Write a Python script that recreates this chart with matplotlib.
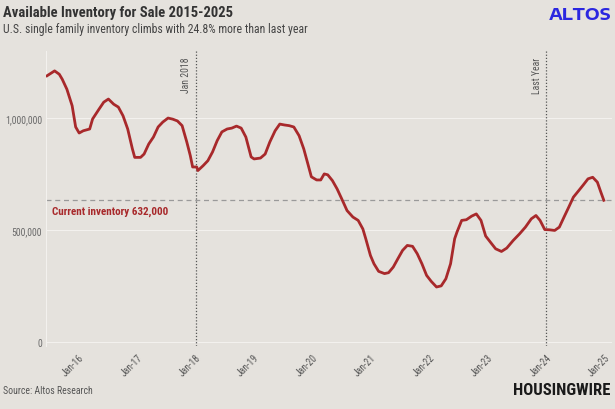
import matplotlib
matplotlib.use("Agg")
import matplotlib.pyplot as plt

# inventory (decimal year, single family homes)
years = [2015.46, 2015.59, 2015.67, 2015.72, 2015.80, 2015.89, 2015.95, 2016.01, 2016.08,
         2016.19, 2016.24, 2016.35, 2016.43, 2016.51, 2016.60, 2016.68, 2016.76, 2016.84,
         2016.92, 2016.96, 2017.06, 2017.12, 2017.20, 2017.28, 2017.36, 2017.44, 2017.53,
         2017.61, 2017.69, 2017.77, 2017.85, 2017.91, 2017.95, 2018.02, 2018.04, 2018.13,
         2018.21, 2018.29, 2018.37, 2018.45, 2018.54, 2018.62, 2018.70, 2018.78, 2018.86,
         2018.95, 2019.00, 2019.11, 2019.19, 2019.27, 2019.36, 2019.44, 2019.52, 2019.60,
         2019.68, 2019.77, 2019.85, 2019.92, 2019.98, 2020.07, 2020.14, 2020.20, 2020.26,
         2020.34, 2020.42, 2020.50, 2020.59, 2020.69, 2020.78, 2020.86, 2020.91, 2020.99,
         2021.05, 2021.13, 2021.23, 2021.30, 2021.38, 2021.46, 2021.54, 2021.62, 2021.71,
         2021.79, 2021.87, 2021.95, 2022.03, 2022.12, 2022.20, 2022.28, 2022.36, 2022.43,
         2022.47, 2022.55, 2022.63, 2022.72, 2022.80, 2022.88, 2022.96, 2023.04, 2023.13,
         2023.23, 2023.32, 2023.43, 2023.54, 2023.64, 2023.74, 2023.82, 2023.89, 2023.97,
         2024.05, 2024.14, 2024.22, 2024.30, 2024.38, 2024.46, 2024.55, 2024.63, 2024.71,
         2024.79, 2024.87, 2024.93, 2024.98]
inventory = [1189, 1211, 1196, 1174, 1129, 1055, 960, 933, 943,
             951, 996, 1040, 1071, 1085, 1062, 1049, 1010, 951,
             862, 824, 824, 839, 884, 915, 960, 982, 1000,
             995, 987, 966, 893, 832, 781, 781, 765, 787,
             809, 848, 899, 938, 951, 955, 964, 955, 915,
             826, 817, 821, 839, 893, 943, 973, 969, 966,
             960, 921, 862, 795, 737, 723, 723, 750, 746,
             720, 683, 638, 586, 557, 542, 504, 460, 385,
             348, 314, 304, 308, 333, 371, 408, 430, 426,
             393, 348, 296, 269, 244, 249, 281, 348, 460,
             490, 542, 545, 561, 571, 542, 472, 445, 415,
             403, 418, 452, 482, 512, 549, 564, 542, 501,
             500, 497, 512, 557, 601, 646, 675, 701, 728,
             735, 713, 668, 632]
inventory = [v * 1000 for v in inventory]

tick_years = list(range(2016, 2026))
tick_labels = ['Jan-16', 'Jan-17', 'Jan-18', 'Jan-19', 'Jan-20',
               'Jan-21', 'Jan-22', 'Jan-23', 'Jan-24', 'Jan-25']
y_ticks = [0, 500000, 1000000]
y_labels = ['0', '500,000', '1,000,000']
current = 632000
markers = [(2018.0, 'Jan 2018'), (2024.0, 'Last Year')]

bg = '#e5e2dd'
red = '#a8292b'
cond = ['Roboto Condensed', 'DejaVu Sans']

W, H = 615, 410
fig = plt.figure(figsize=(W / 100, H / 100), dpi=100, facecolor=bg)
ax = fig.add_axes([46 / W, 1 - 347 / H, (612 - 46) / W, (347 - 52) / H], facecolor=bg)

ax.plot(years, inventory, color=red, lw=2, solid_joinstyle='round', zorder=3)

ax.set_xlim(2015.443, 2025.12)
ax.set_ylim(-20000, 1300000)

ax.set_yticks(y_ticks)
ax.set_yticklabels(y_labels, family=cond, fontsize=7, color='#6a6a6a')
ax.set_xticks(tick_years)
ax.set_xticklabels(tick_labels, family=cond, fontsize=7, color='#555555',
                   rotation=45, ha='right', rotation_mode='anchor')
ax.tick_params(axis='y', length=0, pad=3)
ax.tick_params(axis='x', length=0, pad=4)

ax.grid(axis='y', color='#f3f1ee', lw=0.8)
for s in ['top', 'right', 'bottom']:
    ax.spines[s].set_visible(False)
ax.spines['left'].set_color('#f3f1ee')
ax.spines['left'].set_linewidth(0.8)

# current inventory reference
ax.axhline(current, color='#9a9a9a', lw=0.9, dashes=(4, 3), zorder=2)
ax.text(2015.54, current - 45000, f'Current inventory {current:,}', family=cond,
        fontsize=8, fontweight='bold', color=red, va='center', ha='left')

for x, lab in markers:
    ax.axvline(x, color='#555555', lw=0.9, ls=(0, (1, 1.5)), zorder=2)
    ax.text(x - 0.07, 1275000, lab, rotation=90, ha='right', va='top',
            family=cond, fontsize=7, color='#555555')

fig.text(3 / W, 1 - 13 / H, 'Available Inventory for Sale 2015-2025', family=cond,
         fontsize=10.5, fontweight='bold', color='#333333', va='center', ha='left')
fig.text(3 / W, 1 - 30 / H, 'U.S. single family inventory climbs with 24.8% more than last year',
         family=cond, fontsize=8.5, color='#444444', va='center', ha='left')
fig.text(611 / W, 1 - 15 / H, 'ALTOS', family=['Encode Sans Expanded', 'DejaVu Sans'],
         fontsize=12, fontweight='bold', color='#2b27e0', va='center', ha='right')
fig.text(3 / W, 1 - 391 / H, 'Source: Altos Research', family=cond,
         fontsize=7, color='#555555', va='center', ha='left')
fig.text(611 / W, 1 - 391 / H, 'HOUSINGWIRE', family=cond, fontsize=12,
         fontweight='black', color='#1a1a1a', va='center', ha='right')

fig.savefig('out.png', dpi=100, facecolor=bg)
